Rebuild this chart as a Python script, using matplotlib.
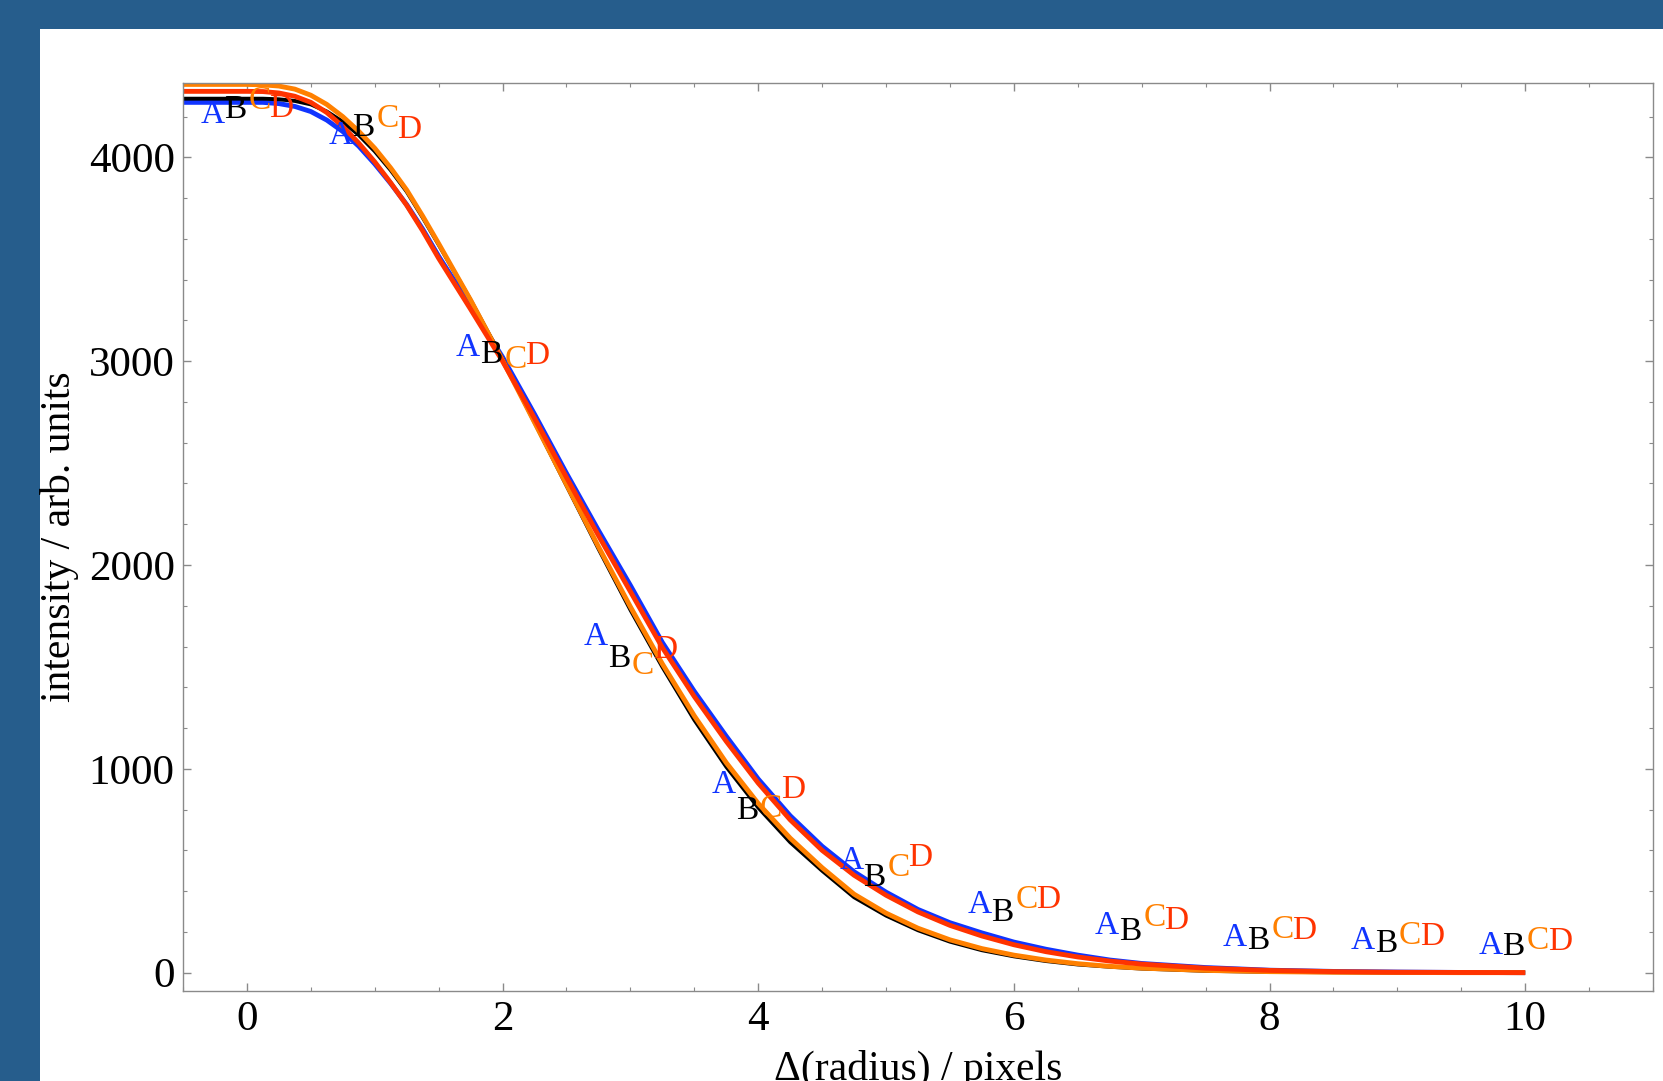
import matplotlib
matplotlib.use("Agg")
import matplotlib.pyplot as plt
import numpy as np
from matplotlib.patches import Rectangle

plt.rcParams['font.family'] = ['Liberation Serif', 'DejaVu Serif']
plt.rcParams['mathtext.fontset'] = 'stix'

# radius offsets where the profiles were read
radius = [-0.5, -0.25, 0.0, 0.125, 0.25, 0.375, 0.5, 0.625, 0.75, 0.875, 1.0, 1.125,
          1.25, 1.375, 1.5, 1.75, 2.0, 2.25, 2.5, 2.75, 3.0, 3.25, 3.5, 3.75, 4.0,
          4.25, 4.5, 4.75, 5.0, 5.25, 5.5, 5.75, 6.0, 6.25, 6.5, 6.75, 7.0, 7.5,
          8.0, 8.5, 9.0, 9.5, 10.0]

profile_a = [4270, 4270, 4270, 4270, 4264, 4250, 4225, 4183, 4127, 4055, 3968, 3872,
             3768, 3648, 3515, 3270, 3020, 2740, 2450, 2170, 1900, 1620, 1380, 1160,
             950, 770, 620, 495, 395, 310, 245, 195, 150, 115, 86, 62, 45, 25, 12, 6,
             3, 1, 0]
profile_b = [4288, 4288, 4288, 4288, 4285, 4277, 4260, 4225, 4175, 4110, 4030, 3937,
             3832, 3705, 3572, 3300, 3010, 2700, 2390, 2080, 1780, 1500, 1240, 1010,
             810, 640, 500, 370, 280, 208, 152, 110, 80, 57, 40, 29, 20, 9, 4, 2, 1,
             0, 0]
profile_c = [4358, 4358, 4358, 4356, 4350, 4335, 4305, 4260, 4200, 4128, 4045, 3948,
             3840, 3712, 3577, 3300, 3005, 2700, 2395, 2090, 1795, 1515, 1260, 1030,
             830, 660, 515, 385, 292, 218, 161, 118, 86, 62, 44, 31, 22, 11, 5, 2, 1,
             0, 0]
profile_d = [4324, 4324, 4324, 4323, 4316, 4300, 4270, 4220, 4152, 4070, 3978, 3875,
             3765, 3640, 3505, 3255, 3000, 2720, 2430, 2145, 1870, 1595, 1355, 1135,
             930, 750, 600, 478, 380, 298, 232, 180, 137, 103, 77, 57, 42, 22, 11, 5,
             2, 1, 0]

names = ["A", "B", "C", "D"]
colors = ["#1034FF", "#000000", "#FF8000", "#FF3300"]
widths = [3.5, 2.8, 3.5, 3.5]

# callout letters: one group per integer radius
label_groups = [0, 1, 2, 3, 4, 5, 6, 7, 8, 9, 10]
label_dx = [-0.27, -0.09, 0.10, 0.27]
label_a = [4209, 4105, 3065, 1650, 922, 548, 334, 230, 173, 158, 132]
label_b = [4235, 4146, 3034, 1541, 792, 465, 293, 199, 158, 143, 127]
label_c = [4277, 4188, 3008, 1505, 802, 517, 360, 267, 210, 179, 158]
label_d = [4241, 4136, 3029, 1583, 896, 564, 360, 256, 205, 174, 153]

fig = plt.figure(figsize=(16.63, 10.81), dpi=100)
fig.patch.set_facecolor("#265D8C")
fig.add_artist(Rectangle((40 / 1663, 0), 1, 1 - 29 / 1081, transform=fig.transFigure,
                         facecolor="white", edgecolor="none", zorder=0))

ax = fig.add_axes([183 / 1663, 1 - 991 / 1081, (1653 - 183) / 1663, (991 - 83) / 1081])
ax.set_facecolor("white")

profiles = [profile_a, profile_b, profile_c, profile_d]
for prof, col, lw in zip(profiles, colors, widths):
    ax.plot(radius, prof, color=col, lw=lw, solid_capstyle="butt",
            solid_joinstyle="round")

labels = [label_a, label_b, label_c, label_d]
for name, col, dx, ys in zip(names, colors, label_dx, labels):
    for g, y in zip(label_groups, ys):
        ax.text(g + dx, y, name, color=col, fontsize=24, ha="center", va="center")

ax.set_xlim(-0.5, 11)
ax.set_ylim(-90, 4365)
ax.set_xticks([0, 2, 4, 6, 8, 10])
ax.set_xticks(np.arange(-0.5, 11.01, 0.5), minor=True)
ax.set_yticks([0, 1000, 2000, 3000, 4000])
ax.set_yticks(np.arange(0, 4301, 200), minor=True)

for s in ax.spines.values():
    s.set_color("#8a8a8a")
    s.set_linewidth(1.0)
ax.tick_params(which="both", direction="in", top=True, right=True, color="#8a8a8a",
               labelsize=31)
ax.tick_params(which="major", length=6, width=1.0)
ax.tick_params(which="minor", length=3, width=0.8)
ax.tick_params(axis="x", pad=7)
ax.tick_params(axis="y", pad=6)

ax.set_xlabel("Δ(radius) / pixels", fontsize=30, labelpad=8)
ax.set_ylabel("intensity / arb. units", fontsize=30, labelpad=7)

fig.savefig("out.png", dpi=100, facecolor=fig.get_facecolor())
